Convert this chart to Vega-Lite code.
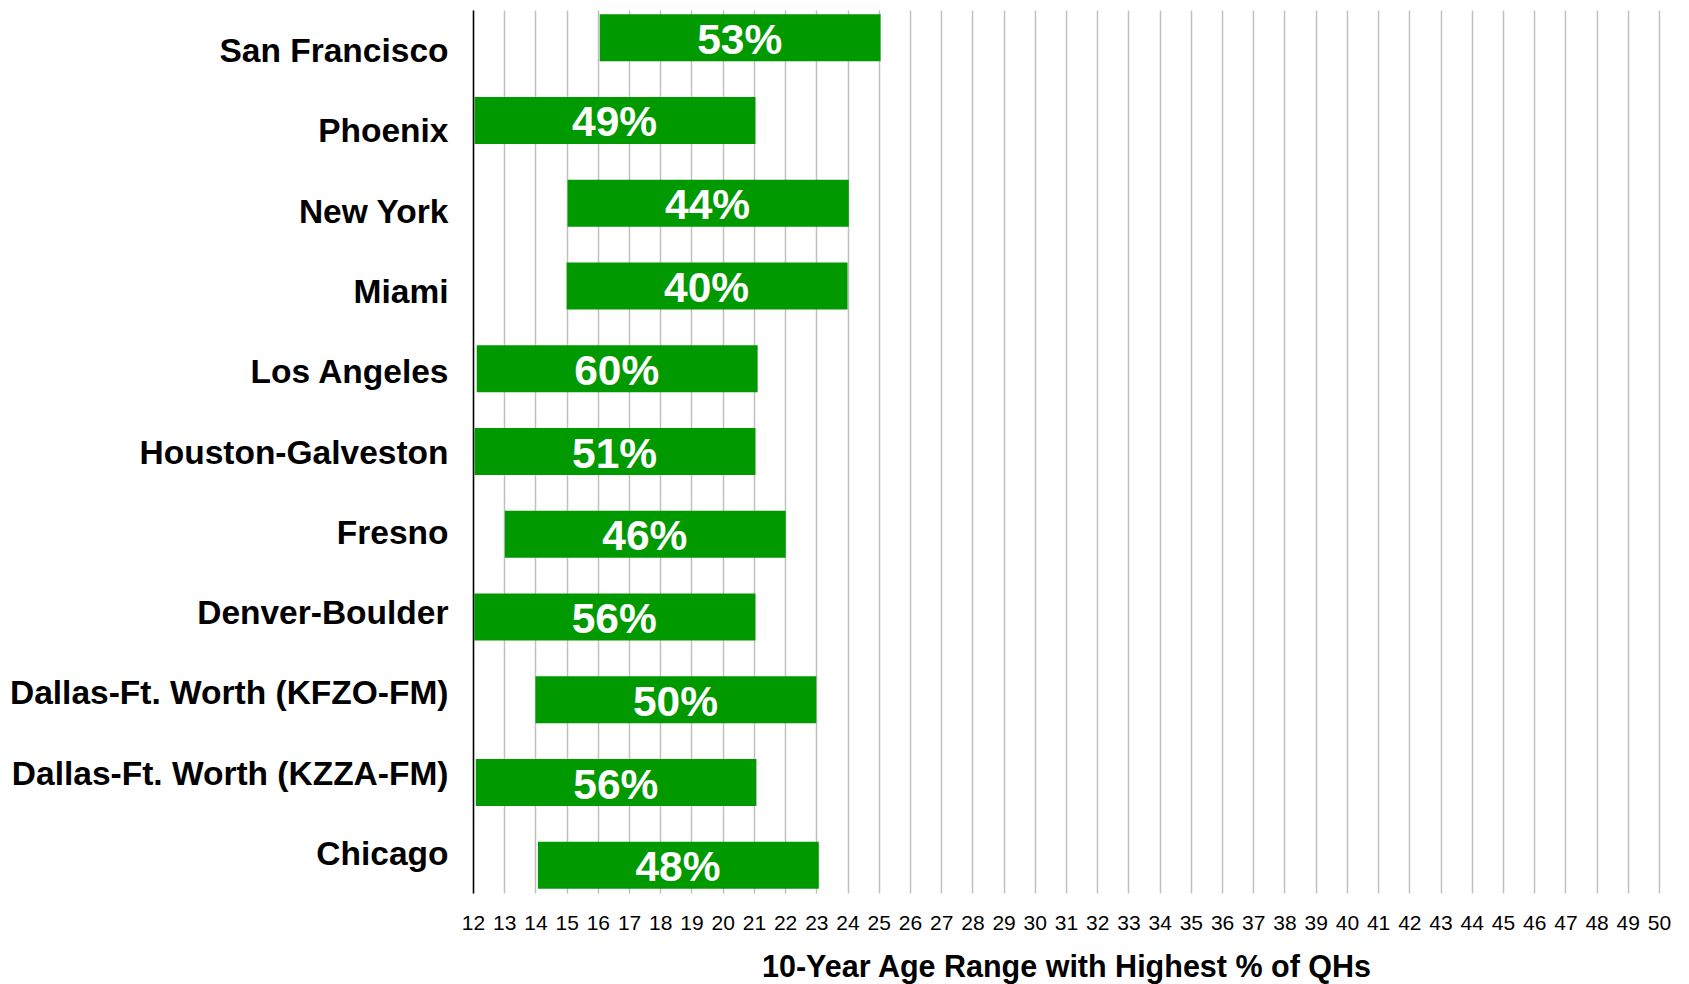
{
  "$schema": "https://vega.github.io/schema/vega-lite/v6.json",
  "width": 1186,
  "height": 883,
  "autosize": {"type": "none"},
  "padding": {"left": 473, "top": 10, "right": 30, "bottom": 91},
  "background": "white",
  "data": {
    "values": [
      {"city": "San Francisco", "start": 16.06, "end": 25.06, "label": "53%"},
      {"city": "Phoenix", "start": 12.05, "end": 21.05, "label": "49%"},
      {"city": "New York", "start": 15.03, "end": 24.04, "label": "44%"},
      {"city": "Miami", "start": 15.0, "end": 24.0, "label": "40%"},
      {"city": "Los Angeles", "start": 12.12, "end": 21.12, "label": "60%"},
      {"city": "Houston-Galveston", "start": 12.05, "end": 21.05, "label": "51%"},
      {"city": "Fresno", "start": 13.02, "end": 22.02, "label": "46%"},
      {"city": "Denver-Boulder", "start": 12.04, "end": 21.05, "label": "56%"},
      {"city": "Dallas-Ft. Worth (KFZO-FM)", "start": 14.0, "end": 23.0, "label": "50%"},
      {"city": "Dallas-Ft. Worth (KZZA-FM)", "start": 12.09, "end": 21.08, "label": "56%"},
      {"city": "Chicago", "start": 14.08, "end": 23.08, "label": "48%"}
    ]
  },
  "encoding": {
    "x": {
      "field": "start",
      "type": "quantitative",
      "scale": {"domain": [12, 50], "nice": false, "zero": false},
      "axis": {
        "orient": "bottom",
        "values": [12,13,14,15,16,17,18,19,20,21,22,23,24,25,26,27,28,29,30,31,32,33,34,35,36,37,38,39,40,41,42,43,44,45,46,47,48,49,50],
        "grid": true,
        "gridColor": "#c0c0c0",
        "gridWidth": 1.5,
        "domain": false,
        "ticks": false,
        "tickSize": 0,
        "labelFont": "Liberation Sans Narrow, Arial Narrow, Liberation Sans",
        "labelFontSize": 21,
        "labelColor": "#000000",
        "labelBaseline": "middle",
        "labelPadding": 30,
        "labelFlush": false,
        "labelOverlap": false,
        "title": "10-Year Age Range with Highest % of QHs",
        "titleFont": "Liberation Sans",
        "titleFontSize": 30.5,
        "titleFontWeight": "bold",
        "titleColor": "#000000",
        "titleBaseline": "middle",
        "titleY": 74
      }
    }
  },
  "layer": [
    {
      "mark": {"type": "point", "opacity": 0},
      "encoding": {
        "y": {
          "field": "city",
          "type": "nominal",
          "sort": null,
          "scale": {"type": "band", "paddingInner": 0, "paddingOuter": 0},
          "axis": {
            "title": null,
            "domain": true,
            "domainColor": "#000000",
            "domainWidth": 1.5,
            "ticks": false,
            "tickSize": 0,
            "grid": false,
            "labelFont": "Liberation Sans",
            "labelFontSize": 33.5,
            "labelFontWeight": "bold",
            "labelColor": "#000000",
            "labelPadding": 25,
            "labelOffset": 2,
            "labelLimit": 0
          }
        }
      }
    },
    {
      "mark": {"type": "bar", "color": "#009900"},
      "encoding": {
        "y": {
          "field": "city",
          "type": "nominal",
          "sort": null,
          "scale": {"type": "band", "paddingInner": 0.43, "paddingOuter": 0.05},
          "axis": null
        },
        "x2": {"field": "end"}
      }
    },
    {
      "mark": {
        "type": "text",
        "color": "#ffffff",
        "font": "Liberation Sans",
        "fontSize": 42.5,
        "fontWeight": "bold",
        "baseline": "middle",
        "align": "center",
        "dx": 140,
        "dy": 3
      },
      "encoding": {
        "y": {
          "field": "city",
          "type": "nominal",
          "sort": null,
          "scale": {"type": "band", "paddingInner": 0.43, "paddingOuter": 0.05},
          "axis": null
        },
        "text": {"field": "label"}
      }
    }
  ],
  "resolve": {"scale": {"y": "independent"}},
  "config": {"view": {"stroke": null}}
}
